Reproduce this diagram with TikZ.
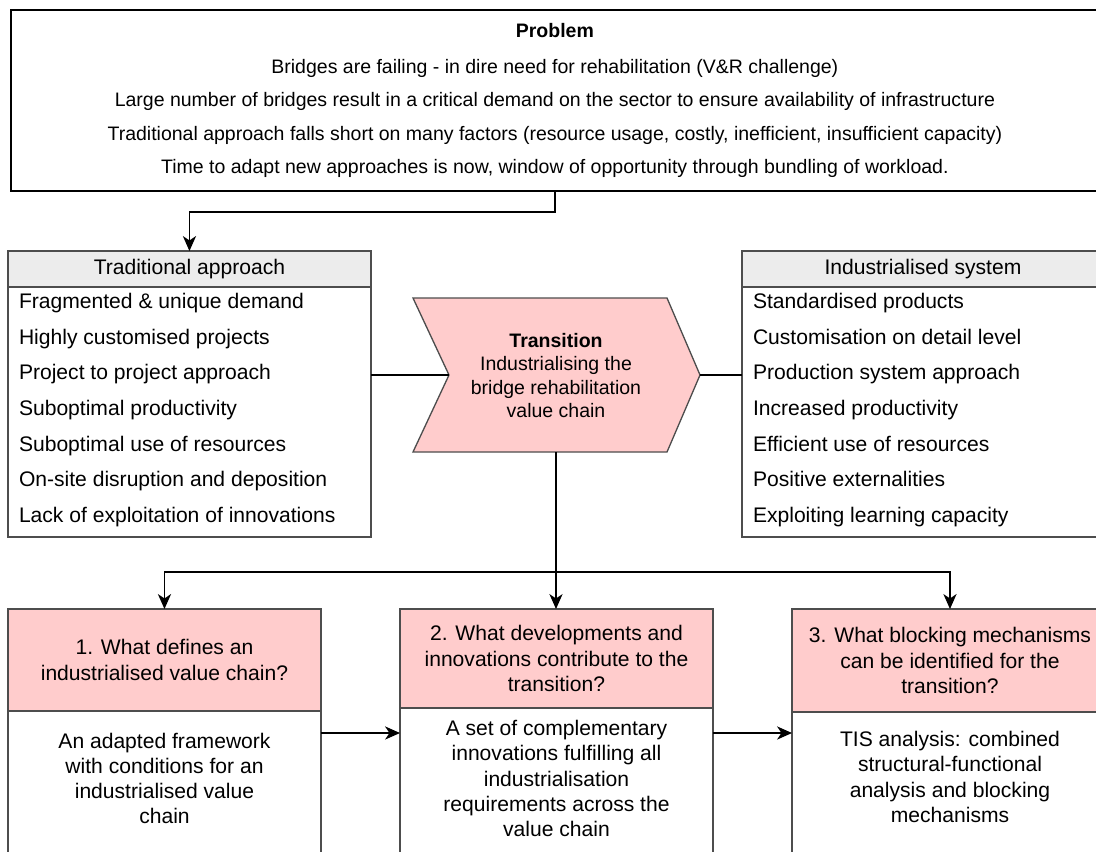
\documentclass[tikz,border=0pt]{standalone}
\usepackage{fontspec}
\setmainfont{Liberation Sans}
\usetikzlibrary{arrows.meta,positioning}
\definecolor{qpink}{HTML}{FFCCCC}
\definecolor{hgray}{HTML}{ECECEC}
\definecolor{bgray}{HTML}{4D4D4D}

\begin{document}
\begin{tikzpicture}[x=0.02cm,y=-0.02cm,>={Stealth[length=8.5pt,width=7.5pt,inset=2.5pt]},
                line width=0.85pt,inner sep=0pt,outer sep=0pt,
                every node/.style={font=\fontsize{12}{14.4}\selectfont},
                head box/.style={draw=bgray,line width=0.75pt,fill=hgray,anchor=north west,minimum height=0.72cm},
                list box/.style={draw=bgray,line width=0.75pt,minimum height=5cm},
                item/.style={anchor=west,text height=8.6pt,text depth=2.5pt},
                question/.style={draw=bgray,line width=0.75pt,fill=qpink,anchor=north west,align=center},
                answer/.style={draw=bgray,line width=0.75pt,minimum height=3.2cm}]
                \useasboundingbox (0,0) rectangle (1096,852);
                \clip (0,0) rectangle (1096,852);

                % problem statement
                \node[draw,line width=1.1pt,anchor=north west,minimum width=21.76cm,minimum height=3.62cm,
                      align=center,font=\fontsize{11.1}{18.9}\selectfont] (prob) at (11,10)
                      {\textbf{Problem}\\[1.5pt]
                       Bridges are failing - in dire need for rehabilitation (V\&R challenge)\\
                       Large number of bridges result in a critical demand on the sector to ensure availability of infrastructure\\
                       Traditional approach falls short on many factors (resource usage, costly, inefficient, insufficient capacity)\\
                       Time to adapt new approaches is now, window of opportunity through bundling of workload.};

                % two systems
                \node[head box,minimum width=7.26cm] (trad) at (8,251) {Traditional approach};
                \node[list box,minimum width=7.26cm,below=0pt of trad] (tradl) {};
                \foreach \t [count=\i from 0] in {Fragmented \& unique demand,Highly customised projects,
                        Project to project approach,Suboptimal productivity,Suboptimal use of resources,
                        On-site disruption and deposition,Lack of exploitation of innovations}
                    \node[item] (ta\i) at (19,{303+35.7*\i}) {\t};

                \node[head box,minimum width=7.24cm] (ind) at (742,251) {Industrialised system};
                \node[list box,minimum width=7.24cm,below=0pt of ind] (indl) {};
                \foreach \t [count=\i from 0] in {Standardised products,Customisation on detail level,
                        Production system approach,Increased productivity,Efficient use of resources,
                        Positive externalities,Exploiting learning capacity}
                    \node[item] (ia\i) at (753,{303+35.7*\i}) {\t};

                % transition step
                \draw[draw=bgray,line width=0.75pt,fill=qpink] (413,298) -- (667,298) -- (700,375)
                    -- (667,452) -- (413,452) -- (449,375) -- cycle;
                \node[align=center,font=\fontsize{11.1}{13.3}\selectfont] (trans) at (556,375.5)
                    {\textbf{Transition}\\Industrialising the\\bridge rehabilitation\\value chain};
                \coordinate (notch) at (449,375);
                \coordinate (tip) at (700,375);
                \coordinate (tbot) at (556,452);
                \coordinate (split) at (556,572);
                \coordinate (lvl) at (0,733);

                % research questions
                \node[question,minimum width=6.26cm,minimum height=2.04cm] (q1) at (8,609)
                    {1. What defines an\\industrialised value chain?};
                \node[question,minimum width=6.26cm,minimum height=1.98cm] (q2) at (400,609)
                    {2. What developments and\\innovations contribute to the\\transition?};
                \node[question,minimum width=6.32cm,minimum height=2.06cm] (q3) at (792,609)
                    {3. What blocking mechanisms\\can be identified for the\\transition?};
                \node[answer,minimum width=6.26cm,below=0pt of q1] (a1) {};
                \node[answer,minimum width=6.26cm,below=0pt of q2] (a2) {};
                \node[answer,minimum width=6.32cm,below=0pt of q3] (a3) {};
                \node[align=center] (a1t) at (164.5,778.5)
                    {An adapted framework\\with conditions for an\\industrialised value\\chain};
                \node[align=center] (a2t) at (556.5,778.5)
                    {A set of complementary\\innovations fulfilling all\\industrialisation\\requirements across the\\value chain};
                \node[align=center] (a3t) at (950,777)
                    {TIS analysis: combined\\structural-functional\\analysis and blocking\\mechanisms};

                \draw[->] (prob.south) -- ++(0,21) -| (trad.north);
                \draw (tradl.east |- notch) -- (notch);
                \draw (tip) -- (indl.west |- tip);
                \draw (tbot) -- (split);
                \draw[->] (split) -| (q1.north);
                \draw[->] (split) -- (split |- q2.north);
                \draw[->] (split) -| (q3.north);
                \draw[->] (a1.east |- lvl) -- (a2.west |- lvl);
                \draw[->] (a2.east |- lvl) -- (a3.west |- lvl);
\end{tikzpicture}
\end{document}
